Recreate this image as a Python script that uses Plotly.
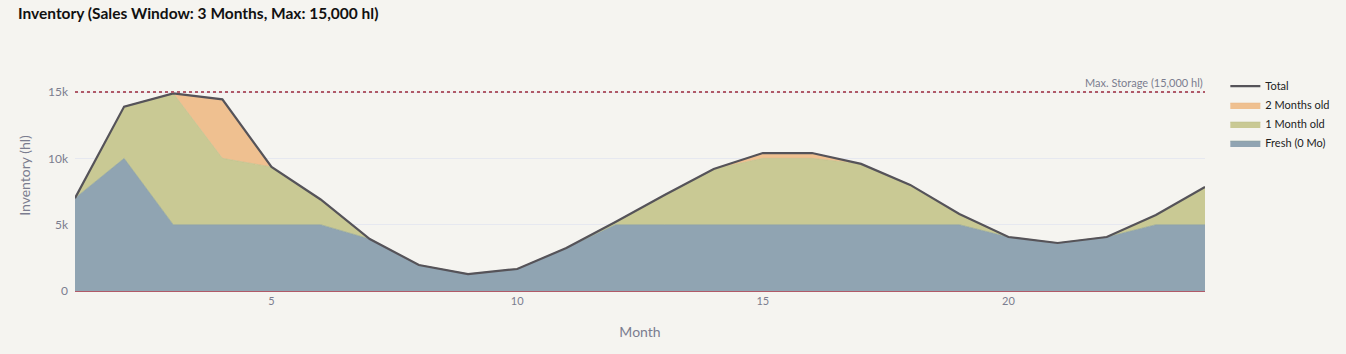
import plotly.graph_objects as go

months = list(range(1, 25))
fresh = [7000, 10000, 5000, 5000, 5000, 5000, 3920, 1960, 1280, 1660, 3240, 5000,
         5000, 5000, 5000, 5000, 5000, 5000, 5000, 4070, 3620, 4070, 5000, 5000]
one_month = [0, 3900, 9900, 5000, 4350, 1900, 0, 0, 0, 0, 0, 200,
             2240, 4200, 5000, 5000, 4580, 3000, 800, 0, 0, 0, 730, 2840]
two_months = [0, 0, 0, 4450, 0, 0, 0, 0, 0, 0, 0, 0,
              0, 0, 400, 400, 0, 0, 0, 0, 0, 0, 0, 0]
total = [f + o + t for f, o, t in zip(fresh, one_month, two_months)]
max_storage = 15000

font = "Lato, 'Noto Sans', sans-serif"
grey = "#7b7d8f"

fig = go.Figure()
fig.add_trace(go.Scatter(x=months, y=fresh, name="Fresh (0 Mo)", stackgroup="inv",
                         mode="lines", line=dict(color="#8aa098", width=0.6),
                         fillcolor="rgba(142,162,176,0.98)"))
fig.add_trace(go.Scatter(x=months, y=one_month, name="1 Month old", stackgroup="inv",
                         mode="lines", line=dict(color="#bcc08a", width=0.6),
                         fillcolor="rgba(200,200,146,0.98)"))
fig.add_trace(go.Scatter(x=months, y=two_months, name="2 Months old", stackgroup="inv",
                         mode="lines", line=dict(color="#e8b888", width=0.6),
                         fillcolor="rgba(239,191,142,0.98)"))
fig.add_trace(go.Scatter(x=months, y=total, name="Total", mode="lines",
                         line=dict(color="#555359", width=2.2)))

fig.add_shape(type="line", xref="paper", x0=0, x1=1, yref="y", y0=max_storage, y1=max_storage,
              line=dict(color="#b05a68", width=2, dash="dot"))
fig.add_annotation(xref="paper", x=1, yref="y", y=max_storage, text="Max. Storage (15,000 hl)",
                   showarrow=False, xanchor="right", yanchor="bottom", yshift=1,
                   font=dict(family=font, size=11, color=grey))

fig.update_layout(
    width=1346, height=354,
    paper_bgcolor="#f5f4f0", plot_bgcolor="#f5f4f0",
    margin=dict(l=75, r=141, t=60, b=63, autoexpand=False),
    font=dict(family=font, color=grey),
    title=dict(text="<b>Inventory (Sales Window: 3 Months, Max: 15,000 hl)</b>",
               x=18 / 1346, xref="container", xanchor="left", y=1, yref="container", yanchor="top",
               pad=dict(t=8), font=dict(family=font, size=15.5, color="#111111")),
    showlegend=True,
    legend=dict(traceorder="reversed", x=1.018, xanchor="left", y=0.95, yanchor="top",
                font=dict(family=font, size=11, color="#222222"), bgcolor="rgba(0,0,0,0)",
                itemwidth=30),
    xaxis=dict(range=[1, 24], dtick=5, tick0=0, showgrid=False, zeroline=False,
               showline=True, linecolor="#b05a68", linewidth=1,
               title=dict(text="Month", font=dict(size=14, color=grey), standoff=20),
               tickfont=dict(size=11, color=grey)),
    yaxis=dict(range=[0, 17412], tickvals=[0, 5000, 10000, 15000],
               ticktext=["0", "5k", "10k", "15k"], showgrid=True, gridcolor="#e6e8f0",
               zeroline=False, ticklabelstandoff=6,
               title=dict(text="Inventory (hl)", font=dict(size=14, color=grey), standoff=14),
               tickfont=dict(size=12, color=grey)),
)

fig.write_html("out.html")
